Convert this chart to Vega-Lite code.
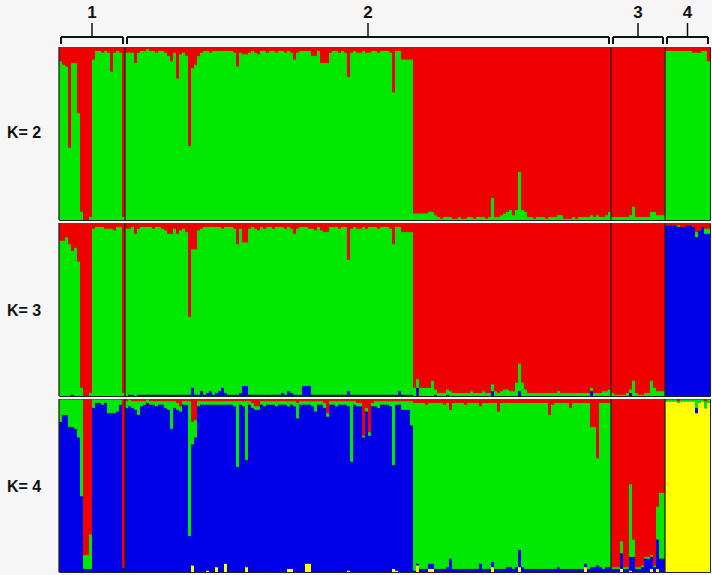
{
"$schema": "https://vega.github.io/schema/vega-lite/v6.json",
"background": "#f6f6f6",
"padding": {"left": 6, "top": 0, "right": 3, "bottom": 3},
"bounds": "flush",
"spacing": 3,
"resolve": {"scale": {"color": "independent", "stroke": "independent"}},
"config": {"view": {"stroke": "#222", "strokeWidth": 1}, "font": "Liberation Sans", "axis": {"translate": 0}},
"datasets": {
"grp": [{"g":"1","s":0,"e":22},{"g":"2","s":22,"e":184},{"g":"3","s":184,"e":202},{"g":"4","s":202,"e":217}],
"ind": [
{"i":0,"k21":0.92,"k22":0.08,"k31":0,"k32":0.90,"k33":0.10,"k41":0,"k42":0.87,"k43":0.13,"k44":0},
{"i":1,"k21":0.90,"k22":0.10,"k31":0,"k32":0.90,"k33":0.10,"k41":0,"k42":0.91,"k43":0.09,"k44":0},
{"i":2,"k21":0.89,"k22":0.11,"k31":0,"k32":0.92,"k33":0.08,"k41":0,"k42":0.91,"k43":0.09,"k44":0},
{"i":3,"k21":0.42,"k22":0.58,"k31":0,"k32":0.88,"k33":0.12,"k41":0,"k42":0.84,"k43":0.16,"k44":0},
{"i":4,"k21":0.91,"k22":0.09,"k31":0.01,"k32":0.83,"k33":0.16,"k41":0,"k42":0.84,"k43":0.16,"k44":0},
{"i":5,"k21":0.91,"k22":0.09,"k31":0,"k32":0.86,"k33":0.14,"k41":0,"k42":0.83,"k43":0.17,"k44":0},
{"i":6,"k21":0.62,"k22":0.38,"k31":0,"k32":0.78,"k33":0.22,"k41":0,"k42":0.78,"k43":0.22,"k44":0},
{"i":7,"k21":0.05,"k22":0.95,"k31":0,"k32":0.05,"k33":0.95,"k41":0,"k42":0.44,"k43":0.56,"k44":0},
{"i":8,"k21":0,"k22":1,"k31":0,"k32":0,"k33":1,"k41":0,"k42":0.02,"k43":0.08,"k44":0.90},
{"i":9,"k21":0,"k22":1,"k31":0,"k32":0,"k33":1,"k41":0,"k42":0.02,"k43":0.08,"k44":0.90},
{"i":10,"k21":0.02,"k22":0.98,"k31":0,"k32":0.02,"k33":0.98,"k41":0,"k42":0.02,"k43":0.20,"k44":0.78},
{"i":11,"k21":0.93,"k22":0.07,"k31":0,"k32":0.97,"k33":0.03,"k41":0,"k42":0.95,"k43":0.05,"k44":0},
{"i":12,"k21":0.98,"k22":0.02,"k31":0,"k32":0.98,"k33":0.02,"k41":0,"k42":0.98,"k43":0.02,"k44":0},
{"i":13,"k21":0.98,"k22":0.02,"k31":0,"k32":0.98,"k33":0.02,"k41":0,"k42":0.98,"k43":0.02,"k44":0},
{"i":14,"k21":0.97,"k22":0.03,"k31":0,"k32":0.98,"k33":0.02,"k41":0,"k42":0.97,"k43":0.03,"k44":0},
{"i":15,"k21":0.98,"k22":0.02,"k31":0,"k32":0.97,"k33":0.03,"k41":0,"k42":0.98,"k43":0.02,"k44":0},
{"i":16,"k21":0.97,"k22":0.03,"k31":0,"k32":0.97,"k33":0.03,"k41":0,"k42":0.92,"k43":0.08,"k44":0},
{"i":17,"k21":0.86,"k22":0.14,"k31":0,"k32":0.97,"k33":0.03,"k41":0,"k42":0.92,"k43":0.08,"k44":0},
{"i":18,"k21":0.97,"k22":0.03,"k31":0,"k32":0.96,"k33":0.04,"k41":0,"k42":0.92,"k43":0.08,"k44":0},
{"i":19,"k21":0.98,"k22":0.02,"k31":0,"k32":0.98,"k33":0.02,"k41":0,"k42":0.93,"k43":0.07,"k44":0},
{"i":20,"k21":0.97,"k22":0.03,"k31":0,"k32":0.98,"k33":0.02,"k41":0,"k42":0.97,"k43":0.03,"k44":0},
{"i":21,"k21":0.02,"k22":0.98,"k31":0,"k32":0.02,"k33":0.98,"k41":0,"k42":0.03,"k43":0,"k44":0.97},
{"i":22,"k21":0.97,"k22":0.03,"k31":0,"k32":0.97,"k33":0.03,"k41":0,"k42":0.95,"k43":0.04,"k44":0.01},
{"i":23,"k21":0.97,"k22":0.03,"k31":0.01,"k32":0.96,"k33":0.03,"k41":0,"k42":0.96,"k43":0.04,"k44":0},
{"i":24,"k21":0.97,"k22":0.03,"k31":0.01,"k32":0.97,"k33":0.02,"k41":0,"k42":0.95,"k43":0.04,"k44":0.01},
{"i":25,"k21":0.91,"k22":0.09,"k31":0,"k32":0.94,"k33":0.06,"k41":0,"k42":0.94,"k43":0.05,"k44":0.01},
{"i":26,"k21":0.97,"k22":0.03,"k31":0.01,"k32":0.96,"k33":0.03,"k41":0,"k42":0.91,"k43":0.08,"k44":0.01},
{"i":27,"k21":0.98,"k22":0.02,"k31":0.01,"k32":0.97,"k33":0.02,"k41":0,"k42":0.96,"k43":0.03,"k44":0.01},
{"i":28,"k21":0.98,"k22":0.02,"k31":0.01,"k32":0.97,"k33":0.02,"k41":0,"k42":0.97,"k43":0.02,"k44":0.01},
{"i":29,"k21":0.99,"k22":0.01,"k31":0.01,"k32":0.97,"k33":0.02,"k41":0,"k42":0.98,"k43":0.02,"k44":0},
{"i":30,"k21":0.98,"k22":0.02,"k31":0.01,"k32":0.97,"k33":0.02,"k41":0,"k42":0.97,"k43":0.02,"k44":0.01},
{"i":31,"k21":0.98,"k22":0.02,"k31":0.01,"k32":0.96,"k33":0.03,"k41":0,"k42":0.97,"k43":0.02,"k44":0.01},
{"i":32,"k21":0.97,"k22":0.03,"k31":0.01,"k32":0.97,"k33":0.02,"k41":0,"k42":0.96,"k43":0.03,"k44":0.01},
{"i":33,"k21":0.98,"k22":0.02,"k31":0.01,"k32":0.97,"k33":0.02,"k41":0,"k42":0.97,"k43":0.02,"k44":0.01},
{"i":34,"k21":0.98,"k22":0.02,"k31":0.01,"k32":0.96,"k33":0.03,"k41":0,"k42":0.97,"k43":0.02,"k44":0.01},
{"i":35,"k21":0.97,"k22":0.03,"k31":0.01,"k32":0.95,"k33":0.04,"k41":0,"k42":0.95,"k43":0.04,"k44":0.01},
{"i":36,"k21":0.95,"k22":0.05,"k31":0.01,"k32":0.93,"k33":0.06,"k41":0,"k42":0.94,"k43":0.05,"k44":0.01},
{"i":37,"k21":0.92,"k22":0.08,"k31":0.01,"k32":0.93,"k33":0.06,"k41":0,"k42":0.83,"k43":0.16,"k44":0.01},
{"i":38,"k21":0.97,"k22":0.03,"k31":0.01,"k32":0.96,"k33":0.03,"k41":0,"k42":0.95,"k43":0.04,"k44":0.01},
{"i":39,"k21":0.82,"k22":0.18,"k31":0.01,"k32":0.93,"k33":0.06,"k41":0,"k42":0.94,"k43":0.04,"k44":0.02},
{"i":40,"k21":0.96,"k22":0.04,"k31":0.01,"k32":0.95,"k33":0.04,"k41":0,"k42":0.93,"k43":0.03,"k44":0.04},
{"i":41,"k21":0.97,"k22":0.03,"k31":0.01,"k32":0.96,"k33":0.03,"k41":0,"k42":0.97,"k43":0.02,"k44":0.01},
{"i":42,"k21":0.95,"k22":0.05,"k31":0.01,"k32":0.94,"k33":0.05,"k41":0,"k42":0.97,"k43":0.02,"k44":0.01},
{"i":43,"k21":0.43,"k22":0.57,"k31":0.01,"k32":0.45,"k33":0.54,"k41":0,"k42":0.21,"k43":0.78,"k44":0.01},
{"i":44,"k21":0.88,"k22":0.12,"k31":0.05,"k32":0.80,"k33":0.15,"k41":0.04,"k42":0.70,"k43":0.13,"k44":0.13},
{"i":45,"k21":0.90,"k22":0.10,"k31":0.01,"k32":0.84,"k33":0.15,"k41":0,"k42":0.78,"k43":0.10,"k44":0.12},
{"i":46,"k21":0.95,"k22":0.05,"k31":0.01,"k32":0.95,"k33":0.04,"k41":0,"k42":0.96,"k43":0.03,"k44":0.01},
{"i":47,"k21":0.97,"k22":0.03,"k31":0.03,"k32":0.94,"k33":0.03,"k41":0,"k42":0.97,"k43":0.02,"k44":0.01},
{"i":48,"k21":0.98,"k22":0.02,"k31":0.01,"k32":0.97,"k33":0.02,"k41":0,"k42":0.97,"k43":0.02,"k44":0.01},
{"i":49,"k21":0.98,"k22":0.02,"k31":0.02,"k32":0.96,"k33":0.02,"k41":0.01,"k42":0.96,"k43":0.02,"k44":0.01},
{"i":50,"k21":0.97,"k22":0.03,"k31":0.03,"k32":0.95,"k33":0.02,"k41":0,"k42":0.97,"k43":0.02,"k44":0.01},
{"i":51,"k21":0.98,"k22":0.02,"k31":0.01,"k32":0.97,"k33":0.02,"k41":0,"k42":0.97,"k43":0.02,"k44":0.01},
{"i":52,"k21":0.98,"k22":0.02,"k31":0.02,"k32":0.96,"k33":0.02,"k41":0.03,"k42":0.94,"k43":0.02,"k44":0.01},
{"i":53,"k21":0.98,"k22":0.02,"k31":0.03,"k32":0.95,"k33":0.02,"k41":0,"k42":0.97,"k43":0.02,"k44":0.01},
{"i":54,"k21":0.98,"k22":0.02,"k31":0.05,"k32":0.92,"k33":0.03,"k41":0,"k42":0.97,"k43":0.02,"k44":0.01},
{"i":55,"k21":0.98,"k22":0.02,"k31":0.02,"k32":0.96,"k33":0.02,"k41":0.05,"k42":0.92,"k43":0.02,"k44":0.01},
{"i":56,"k21":0.98,"k22":0.02,"k31":0.01,"k32":0.97,"k33":0.02,"k41":0,"k42":0.97,"k43":0.02,"k44":0.01},
{"i":57,"k21":0.98,"k22":0.02,"k31":0.01,"k32":0.97,"k33":0.02,"k41":0,"k42":0.97,"k43":0.02,"k44":0.01},
{"i":58,"k21":0.97,"k22":0.03,"k31":0.01,"k32":0.96,"k33":0.03,"k41":0,"k42":0.96,"k43":0.03,"k44":0.01},
{"i":59,"k21":0.89,"k22":0.11,"k31":0.01,"k32":0.87,"k33":0.12,"k41":0,"k42":0.61,"k43":0.38,"k44":0.01},
{"i":60,"k21":0.97,"k22":0.03,"k31":0.02,"k32":0.95,"k33":0.03,"k41":0,"k42":0.97,"k43":0.02,"k44":0.01},
{"i":61,"k21":0.96,"k22":0.04,"k31":0.06,"k32":0.83,"k33":0.11,"k41":0,"k42":0.96,"k43":0.03,"k44":0.01},
{"i":62,"k21":0.96,"k22":0.04,"k31":0.06,"k32":0.83,"k33":0.11,"k41":0.03,"k42":0.62,"k43":0.34,"k44":0.01},
{"i":63,"k21":0.97,"k22":0.03,"k31":0.01,"k32":0.96,"k33":0.03,"k41":0,"k42":0.97,"k43":0.02,"k44":0.01},
{"i":64,"k21":0.98,"k22":0.02,"k31":0.01,"k32":0.97,"k33":0.02,"k41":0,"k42":0.95,"k43":0.03,"k44":0.02},
{"i":65,"k21":0.97,"k22":0.03,"k31":0.01,"k32":0.96,"k33":0.03,"k41":0,"k42":0.94,"k43":0.02,"k44":0.04},
{"i":66,"k21":0.96,"k22":0.04,"k31":0.01,"k32":0.95,"k33":0.04,"k41":0,"k42":0.94,"k43":0.02,"k44":0.04},
{"i":67,"k21":0.98,"k22":0.02,"k31":0.01,"k32":0.97,"k33":0.02,"k41":0,"k42":0.97,"k43":0.02,"k44":0.01},
{"i":68,"k21":0.98,"k22":0.02,"k31":0.01,"k32":0.96,"k33":0.03,"k41":0,"k42":0.96,"k43":0.03,"k44":0.01},
{"i":69,"k21":0.97,"k22":0.03,"k31":0.01,"k32":0.97,"k33":0.02,"k41":0,"k42":0.97,"k43":0.02,"k44":0.01},
{"i":70,"k21":0.98,"k22":0.02,"k31":0.01,"k32":0.97,"k33":0.02,"k41":0,"k42":0.97,"k43":0.02,"k44":0.01},
{"i":71,"k21":0.98,"k22":0.02,"k31":0.01,"k32":0.96,"k33":0.03,"k41":0,"k42":0.97,"k43":0.02,"k44":0.01},
{"i":72,"k21":0.97,"k22":0.03,"k31":0.01,"k32":0.97,"k33":0.02,"k41":0,"k42":0.96,"k43":0.03,"k44":0.01},
{"i":73,"k21":0.98,"k22":0.02,"k31":0.01,"k32":0.97,"k33":0.02,"k41":0,"k42":0.97,"k43":0.02,"k44":0.01},
{"i":74,"k21":0.98,"k22":0.02,"k31":0.02,"k32":0.96,"k33":0.02,"k41":0,"k42":0.97,"k43":0.02,"k44":0.01},
{"i":75,"k21":0.97,"k22":0.03,"k31":0.01,"k32":0.96,"k33":0.03,"k41":0,"k42":0.97,"k43":0.02,"k44":0.01},
{"i":76,"k21":0.98,"k22":0.02,"k31":0.03,"k32":0.95,"k33":0.02,"k41":0.02,"k42":0.94,"k43":0.03,"k44":0.01},
{"i":77,"k21":0.97,"k22":0.03,"k31":0.02,"k32":0.95,"k33":0.03,"k41":0.02,"k42":0.95,"k43":0.02,"k44":0.01},
{"i":78,"k21":0.93,"k22":0.07,"k31":0.01,"k32":0.93,"k33":0.06,"k41":0,"k42":0.96,"k43":0.03,"k44":0.01},
{"i":79,"k21":0.97,"k22":0.03,"k31":0.01,"k32":0.96,"k33":0.03,"k41":0,"k42":0.89,"k43":0.09,"k44":0.02},
{"i":80,"k21":0.98,"k22":0.02,"k31":0.01,"k32":0.97,"k33":0.02,"k41":0,"k42":0.97,"k43":0.02,"k44":0.01},
{"i":81,"k21":0.98,"k22":0.02,"k31":0.06,"k32":0.92,"k33":0.02,"k41":0,"k42":0.97,"k43":0.02,"k44":0.01},
{"i":82,"k21":0.98,"k22":0.02,"k31":0.06,"k32":0.92,"k33":0.02,"k41":0.05,"k42":0.92,"k43":0.02,"k44":0.01},
{"i":83,"k21":0.98,"k22":0.02,"k31":0.06,"k32":0.91,"k33":0.03,"k41":0.05,"k42":0.92,"k43":0.02,"k44":0.01},
{"i":84,"k21":0.95,"k22":0.05,"k31":0.01,"k32":0.96,"k33":0.03,"k41":0,"k42":0.96,"k43":0.03,"k44":0.01},
{"i":85,"k21":0.95,"k22":0.05,"k31":0.01,"k32":0.95,"k33":0.04,"k41":0,"k42":0.93,"k43":0.06,"k44":0.01},
{"i":86,"k21":0.98,"k22":0.02,"k31":0.01,"k32":0.97,"k33":0.02,"k41":0,"k42":0.97,"k43":0.02,"k44":0.01},
{"i":87,"k21":0.91,"k22":0.09,"k31":0.01,"k32":0.95,"k33":0.04,"k41":0,"k42":0.97,"k43":0.02,"k44":0.01},
{"i":88,"k21":0.91,"k22":0.09,"k31":0.01,"k32":0.94,"k33":0.05,"k41":0,"k42":0.95,"k43":0.03,"k44":0.02},
{"i":89,"k21":0.91,"k22":0.09,"k31":0.01,"k32":0.94,"k33":0.05,"k41":0,"k42":0.90,"k43":0.02,"k44":0.08},
{"i":90,"k21":0.97,"k22":0.03,"k31":0.01,"k32":0.97,"k33":0.02,"k41":0,"k42":0.97,"k43":0.02,"k44":0.01},
{"i":91,"k21":0.98,"k22":0.02,"k31":0.01,"k32":0.97,"k33":0.02,"k41":0,"k42":0.97,"k43":0.02,"k44":0.01},
{"i":92,"k21":0.98,"k22":0.02,"k31":0.01,"k32":0.97,"k33":0.02,"k41":0,"k42":0.96,"k43":0.03,"k44":0.01},
{"i":93,"k21":0.97,"k22":0.03,"k31":0.01,"k32":0.96,"k33":0.03,"k41":0,"k42":0.97,"k43":0.02,"k44":0.01},
{"i":94,"k21":0.98,"k22":0.02,"k31":0.01,"k32":0.97,"k33":0.02,"k41":0,"k42":0.97,"k43":0.02,"k44":0.01},
{"i":95,"k21":0.97,"k22":0.03,"k31":0.01,"k32":0.97,"k33":0.02,"k41":0,"k42":0.97,"k43":0.02,"k44":0.01},
{"i":96,"k21":0.83,"k22":0.17,"k31":0.03,"k32":0.76,"k33":0.21,"k41":0.01,"k42":0.95,"k43":0.03,"k44":0.01},
{"i":97,"k21":0.97,"k22":0.03,"k31":0.01,"k32":0.96,"k33":0.03,"k41":0,"k42":0.64,"k43":0.35,"k44":0.01},
{"i":98,"k21":0.98,"k22":0.02,"k31":0.01,"k32":0.97,"k33":0.02,"k41":0,"k42":0.97,"k43":0.02,"k44":0.01},
{"i":99,"k21":0.97,"k22":0.03,"k31":0.01,"k32":0.96,"k33":0.03,"k41":0,"k42":0.96,"k43":0.02,"k44":0.02},
{"i":100,"k21":0.97,"k22":0.03,"k31":0.01,"k32":0.96,"k33":0.03,"k41":0,"k42":0.96,"k43":0.02,"k44":0.02},
{"i":101,"k21":0.98,"k22":0.02,"k31":0.01,"k32":0.97,"k33":0.02,"k41":0,"k42":0.78,"k43":0.01,"k44":0.21},
{"i":102,"k21":0.97,"k22":0.03,"k31":0.01,"k32":0.96,"k33":0.03,"k41":0,"k42":0.93,"k43":0.02,"k44":0.05},
{"i":103,"k21":0.97,"k22":0.03,"k31":0.01,"k32":0.97,"k33":0.02,"k41":0,"k42":0.79,"k43":0.02,"k44":0.19},
{"i":104,"k21":0.98,"k22":0.02,"k31":0.01,"k32":0.97,"k33":0.02,"k41":0,"k42":0.96,"k43":0.02,"k44":0.02},
{"i":105,"k21":0.98,"k22":0.02,"k31":0.01,"k32":0.97,"k33":0.02,"k41":0,"k42":0.96,"k43":0.03,"k44":0.01},
{"i":106,"k21":0.97,"k22":0.03,"k31":0.01,"k32":0.96,"k33":0.03,"k41":0,"k42":0.95,"k43":0.04,"k44":0.01},
{"i":107,"k21":0.98,"k22":0.02,"k31":0.01,"k32":0.97,"k33":0.02,"k41":0,"k42":0.97,"k43":0.02,"k44":0.01},
{"i":108,"k21":0.98,"k22":0.02,"k31":0.01,"k32":0.97,"k33":0.02,"k41":0,"k42":0.97,"k43":0.02,"k44":0.01},
{"i":109,"k21":0.98,"k22":0.02,"k31":0.01,"k32":0.97,"k33":0.02,"k41":0,"k42":0.97,"k43":0.02,"k44":0.01},
{"i":110,"k21":0.97,"k22":0.03,"k31":0.01,"k32":0.96,"k33":0.03,"k41":0,"k42":0.96,"k43":0.03,"k44":0.01},
{"i":111,"k21":0.74,"k22":0.26,"k31":0.01,"k32":0.87,"k33":0.12,"k41":0.02,"k42":0.60,"k43":0.37,"k44":0.01},
{"i":112,"k21":0.98,"k22":0.02,"k31":0.01,"k32":0.97,"k33":0.02,"k41":0.01,"k42":0.96,"k43":0.02,"k44":0.01},
{"i":113,"k21":0.98,"k22":0.02,"k31":0.03,"k32":0.95,"k33":0.02,"k41":0,"k42":0.97,"k43":0.02,"k44":0.01},
{"i":114,"k21":0.93,"k22":0.07,"k31":0.01,"k32":0.94,"k33":0.05,"k41":0,"k42":0.94,"k43":0.05,"k44":0.01},
{"i":115,"k21":0.93,"k22":0.07,"k31":0.01,"k32":0.94,"k33":0.05,"k41":0,"k42":0.94,"k43":0.05,"k44":0.01},
{"i":116,"k21":0.93,"k22":0.07,"k31":0.01,"k32":0.94,"k33":0.05,"k41":0,"k42":0.94,"k43":0.05,"k44":0.01},
{"i":117,"k21":0.93,"k22":0.07,"k31":0.01,"k32":0.94,"k33":0.05,"k41":0,"k42":0.85,"k43":0.14,"k44":0.01},
{"i":118,"k21":0.04,"k22":0.96,"k31":0,"k32":0.05,"k33":0.95,"k41":0,"k42":0.01,"k43":0.97,"k44":0.02},
{"i":119,"k21":0.04,"k22":0.96,"k31":0.05,"k32":0.05,"k33":0.90,"k41":0.04,"k42":0.01,"k43":0.93,"k44":0.02},
{"i":120,"k21":0.04,"k22":0.96,"k31":0,"k32":0.05,"k33":0.95,"k41":0,"k42":0.02,"k43":0.96,"k44":0.02},
{"i":121,"k21":0.04,"k22":0.96,"k31":0,"k32":0.05,"k33":0.95,"k41":0,"k42":0.02,"k43":0.96,"k44":0.02},
{"i":122,"k21":0.04,"k22":0.96,"k31":0,"k32":0.05,"k33":0.95,"k41":0,"k42":0.02,"k43":0.95,"k44":0.03},
{"i":123,"k21":0.05,"k22":0.95,"k31":0,"k32":0.05,"k33":0.95,"k41":0.02,"k42":0.03,"k43":0.93,"k44":0.02},
{"i":124,"k21":0.05,"k22":0.95,"k31":0,"k32":0.09,"k33":0.91,"k41":0.02,"k42":0.03,"k43":0.93,"k44":0.02},
{"i":125,"k21":0.03,"k22":0.97,"k31":0.01,"k32":0.03,"k33":0.96,"k41":0,"k42":0.02,"k43":0.96,"k44":0.02},
{"i":126,"k21":0.02,"k22":0.98,"k31":0,"k32":0.02,"k33":0.98,"k41":0,"k42":0.02,"k43":0.96,"k44":0.02},
{"i":127,"k21":0.01,"k22":0.99,"k31":0,"k32":0.02,"k33":0.98,"k41":0,"k42":0.02,"k43":0.96,"k44":0.02},
{"i":128,"k21":0.02,"k22":0.98,"k31":0,"k32":0.02,"k33":0.98,"k41":0,"k42":0.02,"k43":0.95,"k44":0.03},
{"i":129,"k21":0.02,"k22":0.98,"k31":0.01,"k32":0.03,"k33":0.96,"k41":0,"k42":0.03,"k43":0.95,"k44":0.02},
{"i":130,"k21":0.02,"k22":0.98,"k31":0,"k32":0.03,"k33":0.97,"k41":0,"k42":0.08,"k43":0.86,"k44":0.06},
{"i":131,"k21":0.01,"k22":0.99,"k31":0,"k32":0.02,"k33":0.98,"k41":0,"k42":0.02,"k43":0.96,"k44":0.02},
{"i":132,"k21":0.01,"k22":0.99,"k31":0,"k32":0.02,"k33":0.98,"k41":0,"k42":0.02,"k43":0.96,"k44":0.02},
{"i":133,"k21":0.02,"k22":0.98,"k31":0,"k32":0.02,"k33":0.98,"k41":0,"k42":0.02,"k43":0.96,"k44":0.02},
{"i":134,"k21":0.01,"k22":0.99,"k31":0,"k32":0.02,"k33":0.98,"k41":0,"k42":0.02,"k43":0.96,"k44":0.02},
{"i":135,"k21":0.01,"k22":0.99,"k31":0,"k32":0.02,"k33":0.98,"k41":0,"k42":0.02,"k43":0.95,"k44":0.03},
{"i":136,"k21":0.02,"k22":0.98,"k31":0,"k32":0.02,"k33":0.98,"k41":0,"k42":0.02,"k43":0.96,"k44":0.02},
{"i":137,"k21":0.02,"k22":0.98,"k31":0,"k32":0.03,"k33":0.97,"k41":0,"k42":0.02,"k43":0.96,"k44":0.02},
{"i":138,"k21":0.01,"k22":0.99,"k31":0,"k32":0.02,"k33":0.98,"k41":0,"k42":0.02,"k43":0.96,"k44":0.02},
{"i":139,"k21":0.02,"k22":0.98,"k31":0,"k32":0.02,"k33":0.98,"k41":0,"k42":0.02,"k43":0.96,"k44":0.02},
{"i":140,"k21":0.02,"k22":0.98,"k31":0,"k32":0.02,"k33":0.98,"k41":0,"k42":0.05,"k43":0.91,"k44":0.04},
{"i":141,"k21":0.02,"k22":0.98,"k31":0,"k32":0.03,"k33":0.97,"k41":0,"k42":0.02,"k43":0.96,"k44":0.02},
{"i":142,"k21":0.01,"k22":0.99,"k31":0,"k32":0.02,"k33":0.98,"k41":0,"k42":0.02,"k43":0.96,"k44":0.02},
{"i":143,"k21":0.02,"k22":0.98,"k31":0,"k32":0.02,"k33":0.98,"k41":0,"k42":0.02,"k43":0.96,"k44":0.02},
{"i":144,"k21":0.13,"k22":0.87,"k31":0.03,"k32":0.04,"k33":0.93,"k41":0.03,"k42":0.03,"k43":0.92,"k44":0.02},
{"i":145,"k21":0.02,"k22":0.98,"k31":0,"k32":0.03,"k33":0.97,"k41":0,"k42":0.02,"k43":0.96,"k44":0.02},
{"i":146,"k21":0.02,"k22":0.98,"k31":0,"k32":0.02,"k33":0.98,"k41":0,"k42":0.02,"k43":0.91,"k44":0.07},
{"i":147,"k21":0.03,"k22":0.97,"k31":0,"k32":0.03,"k33":0.97,"k41":0,"k42":0.02,"k43":0.96,"k44":0.02},
{"i":148,"k21":0.04,"k22":0.96,"k31":0,"k32":0.04,"k33":0.96,"k41":0,"k42":0.02,"k43":0.96,"k44":0.02},
{"i":149,"k21":0.05,"k22":0.95,"k31":0,"k32":0.04,"k33":0.96,"k41":0,"k42":0.03,"k43":0.95,"k44":0.02},
{"i":150,"k21":0.06,"k22":0.94,"k31":0,"k32":0.03,"k33":0.97,"k41":0,"k42":0.03,"k43":0.95,"k44":0.02},
{"i":151,"k21":0.03,"k22":0.97,"k31":0,"k32":0.03,"k33":0.97,"k41":0,"k42":0.02,"k43":0.96,"k44":0.02},
{"i":152,"k21":0.06,"k22":0.94,"k31":0,"k32":0.08,"k33":0.92,"k41":0,"k42":0.03,"k43":0.95,"k44":0.02},
{"i":153,"k21":0.28,"k22":0.72,"k31":0.03,"k32":0.16,"k33":0.81,"k41":0.03,"k42":0.10,"k43":0.85,"k44":0.02},
{"i":154,"k21":0.06,"k22":0.94,"k31":0,"k32":0.08,"k33":0.92,"k41":0,"k42":0.03,"k43":0.95,"k44":0.02},
{"i":155,"k21":0.05,"k22":0.95,"k31":0,"k32":0.04,"k33":0.96,"k41":0,"k42":0.02,"k43":0.96,"k44":0.02},
{"i":156,"k21":0.02,"k22":0.98,"k31":0,"k32":0.02,"k33":0.98,"k41":0,"k42":0.02,"k43":0.96,"k44":0.02},
{"i":157,"k21":0.02,"k22":0.98,"k31":0,"k32":0.02,"k33":0.98,"k41":0,"k42":0.02,"k43":0.96,"k44":0.02},
{"i":158,"k21":0.01,"k22":0.99,"k31":0,"k32":0.02,"k33":0.98,"k41":0,"k42":0.02,"k43":0.96,"k44":0.02},
{"i":159,"k21":0.02,"k22":0.98,"k31":0,"k32":0.02,"k33":0.98,"k41":0,"k42":0.02,"k43":0.96,"k44":0.02},
{"i":160,"k21":0.02,"k22":0.98,"k31":0,"k32":0.02,"k33":0.98,"k41":0,"k42":0.02,"k43":0.96,"k44":0.02},
{"i":161,"k21":0.02,"k22":0.98,"k31":0,"k32":0.02,"k33":0.98,"k41":0,"k42":0.02,"k43":0.96,"k44":0.02},
{"i":162,"k21":0.01,"k22":0.99,"k31":0,"k32":0.02,"k33":0.98,"k41":0,"k42":0.02,"k43":0.96,"k44":0.02},
{"i":163,"k21":0.02,"k22":0.98,"k31":0,"k32":0.02,"k33":0.98,"k41":0,"k42":0.02,"k43":0.89,"k44":0.09},
{"i":164,"k21":0.02,"k22":0.98,"k31":0,"k32":0.02,"k33":0.98,"k41":0,"k42":0.02,"k43":0.95,"k44":0.03},
{"i":165,"k21":0.02,"k22":0.98,"k31":0,"k32":0.02,"k33":0.98,"k41":0,"k42":0.02,"k43":0.96,"k44":0.02},
{"i":166,"k21":0.03,"k22":0.97,"k31":0,"k32":0.03,"k33":0.97,"k41":0,"k42":0.03,"k43":0.95,"k44":0.02},
{"i":167,"k21":0.03,"k22":0.97,"k31":0,"k32":0.02,"k33":0.98,"k41":0,"k42":0.02,"k43":0.96,"k44":0.02},
{"i":168,"k21":0.01,"k22":0.99,"k31":0,"k32":0.02,"k33":0.98,"k41":0,"k42":0.02,"k43":0.96,"k44":0.02},
{"i":169,"k21":0.01,"k22":0.99,"k31":0,"k32":0.02,"k33":0.98,"k41":0,"k42":0.02,"k43":0.96,"k44":0.02},
{"i":170,"k21":0.01,"k22":0.99,"k31":0,"k32":0.02,"k33":0.98,"k41":0,"k42":0.02,"k43":0.93,"k44":0.05},
{"i":171,"k21":0.02,"k22":0.98,"k31":0,"k32":0.02,"k33":0.98,"k41":0,"k42":0.02,"k43":0.96,"k44":0.02},
{"i":172,"k21":0.01,"k22":0.99,"k31":0,"k32":0.02,"k33":0.98,"k41":0,"k42":0.02,"k43":0.96,"k44":0.02},
{"i":173,"k21":0.02,"k22":0.98,"k31":0,"k32":0.02,"k33":0.98,"k41":0,"k42":0.02,"k43":0.96,"k44":0.02},
{"i":174,"k21":0.02,"k22":0.98,"k31":0,"k32":0.02,"k33":0.98,"k41":0,"k42":0.02,"k43":0.96,"k44":0.02},
{"i":175,"k21":0.02,"k22":0.98,"k31":0,"k32":0.02,"k33":0.98,"k41":0.03,"k42":0.02,"k43":0.93,"k44":0.02},
{"i":176,"k21":0.02,"k22":0.98,"k31":0,"k32":0.02,"k33":0.98,"k41":0,"k42":0.02,"k43":0.96,"k44":0.02},
{"i":177,"k21":0.03,"k22":0.97,"k31":0.03,"k32":0.02,"k33":0.95,"k41":0,"k42":0.03,"k43":0.81,"k44":0.16},
{"i":178,"k21":0.02,"k22":0.98,"k31":0,"k32":0.02,"k33":0.98,"k41":0,"k42":0.03,"k43":0.81,"k44":0.16},
{"i":179,"k21":0.03,"k22":0.97,"k31":0,"k32":0.02,"k33":0.98,"k41":0,"k42":0.04,"k43":0.62,"k44":0.34},
{"i":180,"k21":0.02,"k22":0.98,"k31":0,"k32":0.02,"k33":0.98,"k41":0,"k42":0.03,"k43":0.95,"k44":0.02},
{"i":181,"k21":0.02,"k22":0.98,"k31":0,"k32":0.03,"k33":0.97,"k41":0,"k42":0.02,"k43":0.96,"k44":0.02},
{"i":182,"k21":0.03,"k22":0.97,"k31":0,"k32":0.03,"k33":0.97,"k41":0,"k42":0.03,"k43":0.95,"k44":0.02},
{"i":183,"k21":0.05,"k22":0.95,"k31":0,"k32":0.04,"k33":0.96,"k41":0,"k42":0.03,"k43":0.95,"k44":0.02},
{"i":184,"k21":0.02,"k22":0.98,"k31":0,"k32":0.02,"k33":0.98,"k41":0,"k42":0.02,"k43":0.01,"k44":0.97},
{"i":185,"k21":0.02,"k22":0.98,"k31":0,"k32":0.01,"k33":0.99,"k41":0,"k42":0.02,"k43":0.01,"k44":0.97},
{"i":186,"k21":0.02,"k22":0.98,"k31":0,"k32":0.01,"k33":0.99,"k41":0,"k42":0.02,"k43":0.01,"k44":0.97},
{"i":187,"k21":0.02,"k22":0.98,"k31":0,"k32":0.01,"k33":0.99,"k41":0.02,"k42":0.09,"k43":0.07,"k44":0.82},
{"i":188,"k21":0.02,"k22":0.98,"k31":0,"k32":0.01,"k33":0.99,"k41":0,"k42":0.02,"k43":0.01,"k44":0.97},
{"i":189,"k21":0.02,"k22":0.98,"k31":0,"k32":0.02,"k33":0.98,"k41":0,"k42":0.02,"k43":0.01,"k44":0.97},
{"i":190,"k21":0.03,"k22":0.97,"k31":0.02,"k32":0.02,"k33":0.96,"k41":0.01,"k42":0.08,"k43":0.42,"k44":0.49},
{"i":191,"k21":0.08,"k22":0.92,"k31":0,"k32":0.09,"k33":0.91,"k41":0,"k42":0.09,"k43":0.10,"k44":0.81},
{"i":192,"k21":0.02,"k22":0.98,"k31":0,"k32":0.02,"k33":0.98,"k41":0,"k42":0.02,"k43":0.01,"k44":0.97},
{"i":193,"k21":0.02,"k22":0.98,"k31":0,"k32":0.01,"k33":0.99,"k41":0,"k42":0.02,"k43":0.01,"k44":0.97},
{"i":194,"k21":0.02,"k22":0.98,"k31":0,"k32":0.01,"k33":0.99,"k41":0,"k42":0.03,"k43":0.01,"k44":0.96},
{"i":195,"k21":0.02,"k22":0.98,"k31":0,"k32":0.02,"k33":0.98,"k41":0,"k42":0.08,"k43":0.01,"k44":0.91},
{"i":196,"k21":0.02,"k22":0.98,"k31":0,"k32":0.02,"k33":0.98,"k41":0,"k42":0.08,"k43":0.01,"k44":0.91},
{"i":197,"k21":0.05,"k22":0.95,"k31":0,"k32":0.09,"k33":0.91,"k41":0.02,"k42":0.07,"k43":0.01,"k44":0.90},
{"i":198,"k21":0.05,"k22":0.95,"k31":0,"k32":0.05,"k33":0.95,"k41":0,"k42":0.03,"k43":0.01,"k44":0.96},
{"i":199,"k21":0.03,"k22":0.97,"k31":0,"k32":0.03,"k33":0.97,"k41":0.02,"k42":0.17,"k43":0.19,"k44":0.62},
{"i":200,"k21":0.03,"k22":0.97,"k31":0,"k32":0.03,"k33":0.97,"k41":0,"k42":0.08,"k43":0.38,"k44":0.54},
{"i":201,"k21":0.03,"k22":0.97,"k31":0,"k32":0.03,"k33":0.97,"k41":0,"k42":0.08,"k43":0.38,"k44":0.54},
{"i":202,"k21":0.98,"k22":0.02,"k31":0.99,"k32":0,"k33":0.01,"k41":0.99,"k42":0,"k43":0.01,"k44":0},
{"i":203,"k21":0.98,"k22":0.02,"k31":0.99,"k32":0,"k33":0.01,"k41":0.99,"k42":0,"k43":0.01,"k44":0},
{"i":204,"k21":0.98,"k22":0.02,"k31":0.99,"k32":0,"k33":0.01,"k41":0.99,"k42":0,"k43":0.01,"k44":0},
{"i":205,"k21":0.98,"k22":0.02,"k31":0.99,"k32":0,"k33":0.01,"k41":0.99,"k42":0,"k43":0.01,"k44":0},
{"i":206,"k21":0.98,"k22":0.02,"k31":0.98,"k32":0.01,"k33":0.01,"k41":0.98,"k42":0,"k43":0.01,"k44":0.01},
{"i":207,"k21":0.98,"k22":0.02,"k31":0.98,"k32":0,"k33":0.02,"k41":0.99,"k42":0,"k43":0.01,"k44":0},
{"i":208,"k21":0.98,"k22":0.02,"k31":0.98,"k32":0,"k33":0.02,"k41":0.99,"k42":0,"k43":0.01,"k44":0},
{"i":209,"k21":0.98,"k22":0.02,"k31":0.99,"k32":0,"k33":0.01,"k41":0.99,"k42":0,"k43":0.01,"k44":0},
{"i":210,"k21":0.98,"k22":0.02,"k31":0.99,"k32":0,"k33":0.01,"k41":0.99,"k42":0,"k43":0.01,"k44":0},
{"i":211,"k21":0.97,"k22":0.03,"k31":0.98,"k32":0,"k33":0.02,"k41":0.99,"k42":0,"k43":0.01,"k44":0},
{"i":212,"k21":0.97,"k22":0.03,"k31":0.92,"k32":0.03,"k33":0.05,"k41":0.92,"k42":0.03,"k43":0.05,"k44":0},
{"i":213,"k21":0.97,"k22":0.03,"k31":0.96,"k32":0,"k33":0.04,"k41":0.98,"k42":0,"k43":0.02,"k44":0},
{"i":214,"k21":0.98,"k22":0.02,"k31":0.98,"k32":0,"k33":0.02,"k41":0.99,"k42":0,"k43":0.01,"k44":0},
{"i":215,"k21":0.98,"k22":0.02,"k31":0.94,"k32":0.03,"k33":0.03,"k41":0.95,"k42":0,"k43":0.04,"k44":0.01},
{"i":216,"k21":0.92,"k22":0.08,"k31":0.94,"k32":0.03,"k33":0.03,"k41":0.98,"k42":0,"k43":0.02,"k44":0}
]
},
"vconcat": [
{
"width": 651, "height": 44,
"view": {"stroke": null},
"data": {"name": "grp"},
"layer": [
{"mark": {"type": "rule", "strokeWidth": 2, "color": "#111", "xOffset": 2, "x2Offset": -2},
 "encoding": {"x": {"field": "s", "type": "quantitative", "scale": {"domain": [0, 217], "nice": false, "zero": false}, "axis": null}, "x2": {"field": "e"}, "y": {"value": 37}}},
{"mark": {"type": "rule", "strokeWidth": 2, "color": "#111", "xOffset": 2},
 "encoding": {"x": {"field": "s", "type": "quantitative"}, "y": {"value": 37}, "y2": {"value": 44}}},
{"mark": {"type": "rule", "strokeWidth": 2, "color": "#111", "xOffset": -2},
 "encoding": {"x": {"field": "e", "type": "quantitative"}, "y": {"value": 37}, "y2": {"value": 44}}},
{"transform": [{"fold": ["s", "e"], "as": ["k", "v"]}, {"aggregate": [{"op": "mean", "field": "v", "as": "m"}], "groupby": ["g"]}],
 "layer": [
  {"mark": {"type": "rule", "strokeWidth": 1.5, "color": "#111"},
   "encoding": {"x": {"field": "m", "type": "quantitative"}, "y": {"value": 23}, "y2": {"value": 37}}},
  {"mark": {"type": "text", "fontSize": 17, "fontWeight": "bold", "color": "#111", "baseline": "middle", "font": "Liberation Sans"},
   "encoding": {"x": {"field": "m", "type": "quantitative"}, "y": {"value": 13}, "text": {"field": "g"}}}
 ]}
]
},
{
"width": 651, "height": 173,
"layer": [
{"data": {"name": "ind"},
 "transform": [{"fold": ["k21", "k22"], "as": ["cl", "q"]}],
 "mark": {"type": "bar", "binSpacing": 0, "clip": true, "strokeWidth": 1},
 "encoding": {
  "x": {"field": "i", "type": "quantitative", "bin": {"step": 1, "extent": [0, 217]}, "scale": {"domain": [0, 217], "nice": false, "zero": false}, "axis": null},
  "y": {"field": "q", "type": "quantitative", "stack": "zero", "scale": {"domain": [0, 1], "nice": false},
        "axis": {"title": "K= 2", "titleAngle": 0, "titleAlign": "left", "titleBaseline": "middle", "titleX": -52, "titleY": 86, "titleFontSize": 16, "titleFontWeight": "bold", "titleColor": "#111", "titleFont": "Liberation Sans", "labels": false, "ticks": false, "domain": false, "grid": false}},
  "color": {"field": "cl", "type": "nominal", "scale": {"domain": ["k21", "k22"], "range": ["#00e800", "#f00000"]}, "legend": null},
  "stroke": {"field": "cl", "type": "nominal", "scale": {"domain": ["k21", "k22"], "range": ["#00e800", "#f00000"]}, "legend": null},
  "order": {"field": "cl", "sort": "ascending"}
 }},
{"data": {"name": "grp"},
 "mark": {"type": "rule", "color": "#222", "strokeWidth": 1.3},
 "encoding": {"x": {"field": "s", "type": "quantitative", "axis": null}}}
]
},
{
"width": 651, "height": 173,
"layer": [
{"data": {"name": "ind"},
 "transform": [{"fold": ["k31", "k32", "k33"], "as": ["cl", "q"]}],
 "mark": {"type": "bar", "binSpacing": 0, "clip": true, "strokeWidth": 1},
 "encoding": {
  "x": {"field": "i", "type": "quantitative", "bin": {"step": 1, "extent": [0, 217]}, "scale": {"domain": [0, 217], "nice": false, "zero": false}, "axis": null},
  "y": {"field": "q", "type": "quantitative", "stack": "zero", "scale": {"domain": [0, 1], "nice": false},
        "axis": {"title": "K= 3", "titleAngle": 0, "titleAlign": "left", "titleBaseline": "middle", "titleX": -52, "titleY": 88, "titleFontSize": 16, "titleFontWeight": "bold", "titleColor": "#111", "titleFont": "Liberation Sans", "labels": false, "ticks": false, "domain": false, "grid": false}},
  "color": {"field": "cl", "type": "nominal", "scale": {"domain": ["k31", "k32", "k33"], "range": ["#0000e8", "#00e800", "#f00000"]}, "legend": null},
  "stroke": {"field": "cl", "type": "nominal", "scale": {"domain": ["k31", "k32", "k33"], "range": ["#0000e8", "#00e800", "#f00000"]}, "legend": null},
  "order": {"field": "cl", "sort": "ascending"}
 }},
{"data": {"name": "grp"},
 "mark": {"type": "rule", "color": "#222", "strokeWidth": 1.3},
 "encoding": {"x": {"field": "s", "type": "quantitative", "axis": null}}}
]
},
{
"width": 651, "height": 173,
"layer": [
{"data": {"name": "ind"},
 "transform": [{"fold": ["k41", "k42", "k43", "k44"], "as": ["cl", "q"]}],
 "mark": {"type": "bar", "binSpacing": 0, "clip": true, "strokeWidth": 1},
 "encoding": {
  "x": {"field": "i", "type": "quantitative", "bin": {"step": 1, "extent": [0, 217]}, "scale": {"domain": [0, 217], "nice": false, "zero": false}, "axis": null},
  "y": {"field": "q", "type": "quantitative", "stack": "zero", "scale": {"domain": [0, 1], "nice": false},
        "axis": {"title": "K= 4", "titleAngle": 0, "titleAlign": "left", "titleBaseline": "middle", "titleX": -52, "titleY": 88, "titleFontSize": 16, "titleFontWeight": "bold", "titleColor": "#111", "titleFont": "Liberation Sans", "labels": false, "ticks": false, "domain": false, "grid": false}},
  "color": {"field": "cl", "type": "nominal", "scale": {"domain": ["k41", "k42", "k43", "k44"], "range": ["#ffff00", "#0000e8", "#00e800", "#f00000"]}, "legend": null},
  "stroke": {"field": "cl", "type": "nominal", "scale": {"domain": ["k41", "k42", "k43", "k44"], "range": ["#ffff00", "#0000e8", "#00e800", "#f00000"]}, "legend": null},
  "order": {"field": "cl", "sort": "ascending"}
 }},
{"data": {"name": "grp"},
 "mark": {"type": "rule", "color": "#222", "strokeWidth": 1.3},
 "encoding": {"x": {"field": "s", "type": "quantitative", "axis": null}}}
]
}
]
}
